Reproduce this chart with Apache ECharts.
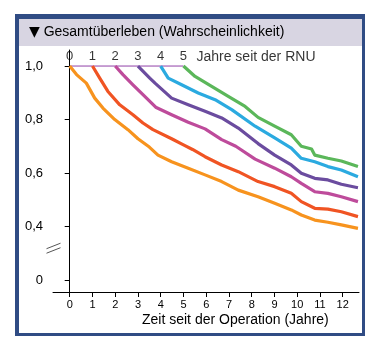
<!DOCTYPE html>
<html>
<head>
<meta charset="utf-8">
<script src="https://cdn.jsdelivr.net/npm/echarts@6/dist/echarts.min.js"></script>
<style>
  html, body { margin: 0; padding: 0; background: #fff; }
  .box { position: absolute; }
</style>
</head>
<body>
<div class="box" style="left:15px;top:14px;width:350px;height:322px;background:#304C84"></div>
<div class="box" style="left:19px;top:19px;width:343px;height:314px;background:#fff"></div>
<div class="box" style="left:19px;top:19px;width:343px;height:27px;background:#D8D5E2"></div>
<div id="chart" class="box" style="left:0;top:0;width:365px;height:350px"></div>
<script>
// Conditional overall survival, one curve per year already survived since RNU
const startYears = [0, 1, 2, 3, 4, 5];
const xTicks = [0, 1, 2, 3, 4, 5, 6, 7, 8, 9, 10, 11, 12];
const yTicks = [0.2, 0.4, 0.6, 0.8, 1.0];   // 0.2 is drawn as "0" below the axis break
const curveColors = ['#F7931E', '#F05423', '#BE4B9B', '#6B4C9F', '#2BAAE0', '#5BB75A'];

const surv0 = [[0,1.0],[0.3,0.968],[0.73,0.936],[1.1,0.88],[1.46,0.843],[1.98,0.80],[2.56,0.762],[3.0,0.728],[3.5,0.697],[3.88,0.667],[4.48,0.642],[5.21,0.618],[5.95,0.593],[6.68,0.568],[7.41,0.536],[8.28,0.511],[9.01,0.487],[9.74,0.462],[10.18,0.443],[10.77,0.424],[11.35,0.416],[11.94,0.406],[12.67,0.393]];
const surv1 = [[1,1.0],[1.32,0.955],[1.68,0.905],[2.2,0.855],[2.78,0.818],[3.22,0.787],[3.66,0.762],[4.48,0.728],[5.0,0.705],[5.4,0.688],[5.95,0.661],[6.68,0.63],[7.41,0.605],[8.28,0.568],[9.01,0.549],[9.74,0.524],[10.18,0.493],[10.77,0.468],[11.35,0.465],[11.94,0.455],[12.67,0.437]];
const surv2 = [[2,1.0],[2.34,0.968],[2.78,0.93],[3.22,0.893],[3.78,0.846],[4.48,0.818],[5.21,0.79],[5.95,0.765],[6.68,0.725],[7.3,0.70],[8.15,0.652],[9.01,0.618],[9.74,0.586],[10.18,0.561],[10.77,0.53],[11.35,0.524],[11.94,0.511],[12.67,0.493]];
const surv3 = [[3,1.0],[3.52,0.955],[3.75,0.936],[4.48,0.88],[5.21,0.855],[5.95,0.831],[6.68,0.806],[7.41,0.768],[8.28,0.71],[9.01,0.667],[9.74,0.63],[10.18,0.599],[10.77,0.58],[11.35,0.574],[11.94,0.558],[12.67,0.545]];
const surv4 = [[4,1.0],[4.33,0.955],[4.92,0.93],[5.65,0.899],[6.39,0.874],[7.12,0.837],[8.15,0.775],[9.01,0.731],[9.74,0.693],[10.18,0.655],[10.77,0.642],[11.35,0.624],[11.94,0.611],[12.67,0.586]];
const surv5 = [[5,1.0],[5.51,0.961],[6.24,0.924],[6.97,0.887],[7.71,0.849],[8.28,0.808],[9.01,0.775],[9.74,0.743],[10.18,0.70],[10.63,0.69],[10.77,0.667],[11.35,0.655],[11.94,0.645],[12.67,0.624]];
const curves = [surv0, surv1, surv2, surv3, surv4, surv5];

const font = 'Liberation Sans, Arial, sans-serif';
const chart = echarts.init(document.getElementById('chart'), null, { renderer: 'canvas' });

const curveSeries = curves.map((d, i) => ({
  type: 'line',
  data: d,
  showSymbol: false,
  silent: true,
  z: 3,
  lineStyle: { color: curveColors[i], width: 3.2, join: 'round' }
}));

const option = {
  animation: false,
  title: [
    { text: '{tri|▼} Gesamtüberleben (Wahrscheinlichkeit)', left: 29, top: 25, padding: 0,
      textStyle: { fontFamily: font, fontSize: 14, fontWeight: 'normal', color: '#000',
        rich: { tri: { fontFamily: 'DejaVu Sans', fontSize: 14, color: '#000' } } } },
    { text: 'Zeit seit der Operation (Jahre)', left: 142, top: 313, padding: 0,
      textStyle: { fontFamily: font, fontSize: 14, fontWeight: 'normal', color: '#000' } }
  ],
  grid: { left: 53, top: 50, right: 6, bottom: 58, containLabel: false },
  xAxis: {
    type: 'value', min: -0.734, max: 12.716,
    axisLine: { lineStyle: { color: '#000', width: 1 } },
    axisTick: { customValues: xTicks, length: 5, lineStyle: { color: '#000' } },
    axisLabel: { customValues: xTicks, margin: 7, fontFamily: font, fontSize: 11, color: '#000' },
    splitLine: { show: false }
  },
  yAxis: {
    type: 'value', min: 0.155, max: 1.06,
    axisLine: { show: true, lineStyle: { color: '#000', width: 1 } },
    axisTick: { show: true, customValues: yTicks, length: 5, lineStyle: { color: '#000' } },
    axisLabel: {
      customValues: yTicks, margin: 10, fontFamily: font, fontSize: 13, color: '#000',
      formatter: v => Math.abs(v - 0.2) < 1e-6 ? '0' : v.toFixed(1).replace('.', ',')
    },
    splitLine: { show: false }
  },
  series: [
    {
      type: 'line', silent: true, showSymbol: false, z: 2,
      data: [[startYears[0], 1.0], [startYears[startYears.length - 1], 1.0]],
      lineStyle: { color: '#9040A8', width: 1 }
    },
    ...curveSeries,
    {
      type: 'scatter', silent: true, symbolSize: 0, z: 4,
      data: startYears.map(y => [y, 1.0]),
      label: { show: true, position: 'top', distance: 3, formatter: p => String(p.value[0]),
               fontFamily: font, fontSize: 13, color: '#000' }
    },
    {
      type: 'scatter', silent: true, symbolSize: 0, z: 4,
      data: [[startYears[startYears.length - 1], 1.0]],
      label: { show: true, position: 'right', distance: 0, offset: [13, -9],
               formatter: 'Jahre seit der RNU', fontFamily: font, fontSize: 14, color: '#000' }
    }
  ]
};
chart.setOption(option);

// Axis break marks between "0" and "0,4"
const p = chart.convertToPixel({ gridIndex: 0 }, [-0.734, 0.315]);
const ax = Math.round(p[0]) + 0.5, ay = p[1];
chart.setOption({
  graphic: [
    { type: 'rect', z: 10, shape: { x: ax - 2, y: ay - 2.5, width: 4, height: 5 }, style: { fill: '#fff' } },
    { type: 'line', z: 11, shape: { x1: ax - 7, y1: ay - 0.5, x2: ax + 7, y2: ay - 6 }, style: { stroke: '#555', lineWidth: 1 } },
    { type: 'line', z: 11, shape: { x1: ax - 7, y1: ay + 4, x2: ax + 7, y2: ay - 1.5 }, style: { stroke: '#555', lineWidth: 1 } }
  ]
});
</script>
</body>
</html>
